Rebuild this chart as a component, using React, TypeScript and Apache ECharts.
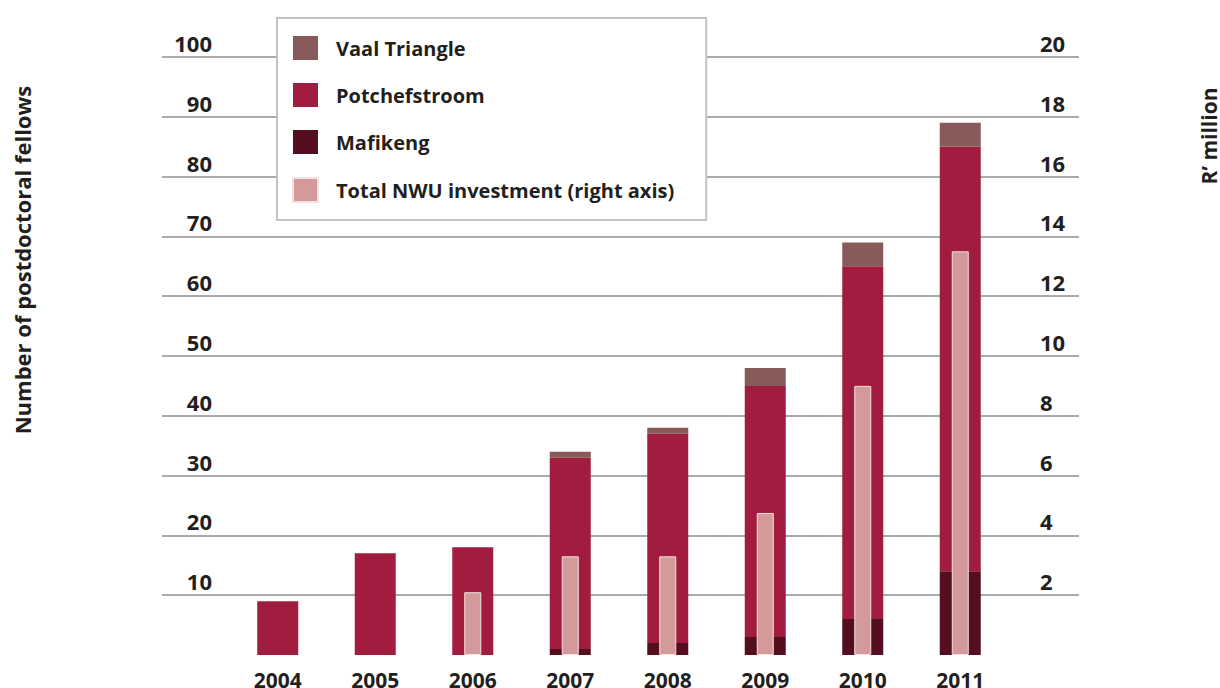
import React, { useEffect, useRef } from "react";
import * as echarts from "echarts";

const years = ["2004", "2005", "2006", "2007", "2008", "2009", "2010", "2011"];
const mafikeng = [0, 0, 0, 1, 2, 3, 6, 14];
const potchefstroom = [9, 17, 18, 32, 35, 42, 59, 71];
const vaalTriangle = [0, 0, 0, 1, 1, 3, 4, 4];
const investment = [null, null, 2.1, 3.3, 3.3, 4.75, 9.0, 13.5];
const leftTicks = { min: 0, max: 100, interval: 10 };
const rightTicks = { min: 0, max: 20, interval: 2 };

const FONT = "'Open Sans', 'Noto Sans', sans-serif";
const TXT = "#231f20";
const C_VAAL = "#885a59";
const C_POTCH = "#a11c3f";
const C_MAF = "#530e1f";
const C_PINK = "#d49a99";

export default function App() {
  const ref = useRef<HTMLDivElement>(null);
  useEffect(() => {
    const chart = echarts.init(ref.current!, null, { renderer: "svg" });
    const gridTop = 57;
    const gridBottom = 33;
    const barGrid = { left: 229, width: 780, top: gridTop, bottom: gridBottom, outerBoundsMode: "none" };
    const option: any = {
      animation: false,
      textStyle: { fontFamily: FONT },
      grid: [
        { left: 162, right: 141, top: gridTop, bottom: gridBottom, outerBoundsMode: "none" },
        barGrid,
        { ...barGrid },
      ],
      legend: {
        orient: "vertical",
        left: 277,
        top: 18,
        padding: [18, 32, 17, 15],
        itemWidth: 25,
        itemHeight: 24,
        itemGap: 23,
        icon: "rect",
        backgroundColor: "#ffffff",
        borderColor: "#c0c2c4",
        borderWidth: 2,
        borderRadius: 0,
        textStyle: { fontFamily: FONT, fontWeight: "bold", fontSize: 20, color: TXT, padding: [0, 0, 0, 13] },
        data: ["Vaal Triangle", "Potchefstroom", "Mafikeng", "Total NWU investment (right axis)"],
        z: 10,
      },
      xAxis: [
        { type: "category", gridIndex: 0, data: years, show: false },
        {
          type: "category",
          gridIndex: 1,
          data: years,
          axisLine: { show: false },
          axisTick: { show: false },
          axisLabel: { margin: 14, fontFamily: FONT, fontWeight: "bold", fontSize: 21, color: TXT },
        },
        { type: "category", gridIndex: 2, data: years, show: false },
      ],
      yAxis: [
        {
          type: "value",
          gridIndex: 0,
          position: "left",
          ...leftTicks,
          axisLine: { show: false },
          axisTick: { show: false },
          splitLine: { show: true, showMinLine: false, lineStyle: { color: "#a9abae", width: 2 } },
          axisLabel: {
            margin: -50,
            align: "right",
            verticalAlign: "bottom",
            lineHeight: 22,
            padding: [0, 0, 3, 0],
            fontFamily: FONT,
            fontWeight: "bold",
            fontSize: 22,
            color: TXT,
            formatter: (v: number) => (v === 0 ? "" : String(v)),
          },
        },
        {
          type: "value",
          gridIndex: 0,
          position: "right",
          ...rightTicks,
          axisLine: { show: false },
          axisTick: { show: false },
          splitLine: { show: false },
          axisLabel: {
            margin: -39,
            align: "left",
            verticalAlign: "bottom",
            lineHeight: 22,
            padding: [0, 0, 3, 0],
            fontFamily: FONT,
            fontWeight: "bold",
            fontSize: 22,
            color: TXT,
            formatter: (v: number) => (v === 0 ? "" : String(v)),
          },
        },
        { type: "value", gridIndex: 1, ...leftTicks, show: false, splitLine: { show: false } },
        { type: "value", gridIndex: 2, ...rightTicks, show: false, splitLine: { show: false } },
      ],
      series: [
        {
          name: "Mafikeng",
          type: "bar",
          stack: "fellows",
          xAxisIndex: 1,
          yAxisIndex: 2,
          barWidth: 41,
          itemStyle: { color: C_MAF },
          data: mafikeng,
        },
        {
          name: "Potchefstroom",
          type: "bar",
          stack: "fellows",
          xAxisIndex: 1,
          yAxisIndex: 2,
          barWidth: 41,
          itemStyle: { color: C_POTCH },
          data: potchefstroom,
        },
        {
          name: "Vaal Triangle",
          type: "bar",
          stack: "fellows",
          xAxisIndex: 1,
          yAxisIndex: 2,
          barWidth: 41,
          itemStyle: { color: C_VAAL },
          data: vaalTriangle,
        },
        {
          name: "Total NWU investment (right axis)",
          type: "bar",
          xAxisIndex: 2,
          yAxisIndex: 3,
          barWidth: 17,
          itemStyle: { color: C_PINK, borderColor: "#f2e2e2", borderWidth: 1 },
          data: investment,
          z: 3,
        },
      ],
      graphic: [
        {
          type: "text",
          x: 22,
          y: 260,
          rotation: Math.PI / 2,
          style: {
            text: "Number of postdoctoral fellows",
            fontFamily: FONT,
            fontWeight: "bold",
            fontSize: 22,
            fill: TXT,
            align: "center",
            verticalAlign: "middle",
          },
        },
        {
          type: "text",
          x: 1209,
          y: 136,
          rotation: Math.PI / 2,
          style: {
            text: "R\u2019 million",
            fontFamily: FONT,
            fontWeight: "bold",
            fontSize: 21,
            fill: TXT,
            align: "center",
            verticalAlign: "middle",
          },
        },
      ],
    };
    chart.setOption(option);
    return () => chart.dispose();
  }, []);
  return (
    <div
      ref={ref}
      style={{ position: "fixed", left: 0, top: 0, width: 1220, height: 688, background: "#fff" }}
    />
  );
}
